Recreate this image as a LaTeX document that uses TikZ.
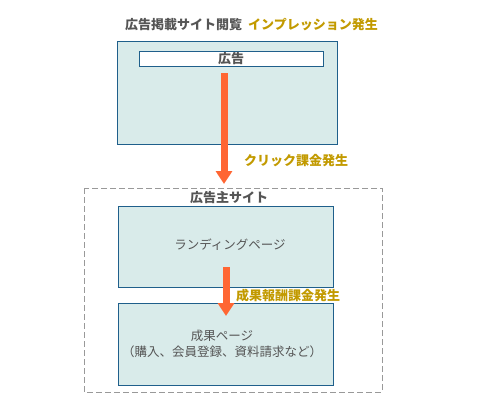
\documentclass[tikz,border=0pt]{standalone}
\usepackage{fontspec}
\setmainfont{Noto Sans CJK JP}
\usetikzlibrary{arrows.meta}
\definecolor{boxfill}{HTML}{D9EBEA}
\definecolor{boxline}{HTML}{1F5F8B}
\definecolor{txtgrey}{HTML}{555555}
\definecolor{gold}{HTML}{C29A00}
\definecolor{arrorange}{HTML}{FF6633}
\tikzset{
  pagebox/.style={draw=boxline, fill=boxfill, line width=1pt},
  adbox/.style={draw=boxline, fill=white, line width=1pt},
  ttl/.style={text=txtgrey, font=\fontsize{13}{15}\selectfont\bfseries},
  goldlbl/.style={text=gold, font=\fontsize{13}{15}\selectfont\bfseries},
  plain/.style={text=txtgrey, font=\fontsize{12.5}{15.5}\selectfont, align=center},
  flow/.style={draw=arrorange, line width=7pt, -{Triangle[width=16pt,length=13pt]}, arrorange}
}
\begin{document}
\begin{tikzpicture}[x=1pt,y=-1pt]
\useasboundingbox (0,0) rectangle (500,400);
% top site
\node[ttl, anchor=west, inner sep=0pt] (t1) at (125,25) {広告掲載サイト閲覧};
\node[goldlbl, anchor=west, inner sep=0pt] (imp) at (248,25) {インプレッション発生};
\path[pagebox] (117,41) rectangle (337,144);
\node[adbox, minimum width=184pt, minimum height=15pt, inner sep=0pt] (ad) at (231,58.5) {};
\node[ttl] at (ad) {広告};
\coordinate (a1s) at (224,73);
\coordinate (a1e) at (224,184);
\draw[flow] (a1s) -- (a1e);
\node[goldlbl, anchor=west, inner sep=0pt] (click) at (244,161) {クリック課金発生};
% advertiser site
\path[draw=gray!80, dash pattern=on 6pt off 3pt, line width=0.9pt] (84,188) rectangle (382,392);
\node[ttl] (t2) at (229,198) {広告主サイト};
\node[pagebox, minimum width=215pt, minimum height=81pt, inner sep=0pt] (lp) at (225.5,246.5) {};
\node[plain] at (230,245) {ランディングページ};
\node[pagebox, minimum width=215pt, minimum height=82pt, inner sep=0pt] (res) at (225.5,344) {};
\node[plain] at (222,344) {成果ページ\\（購入、会員登録、資料請求など）};
\coordinate (a2s) at (226,267);
\coordinate (a2e) at (226,316);
\draw[flow] (a2s) -- (a2e);
\node[goldlbl, anchor=west, inner sep=0pt] (perf) at (236,296) {成果報酬課金発生};
\end{tikzpicture}
\end{document}
